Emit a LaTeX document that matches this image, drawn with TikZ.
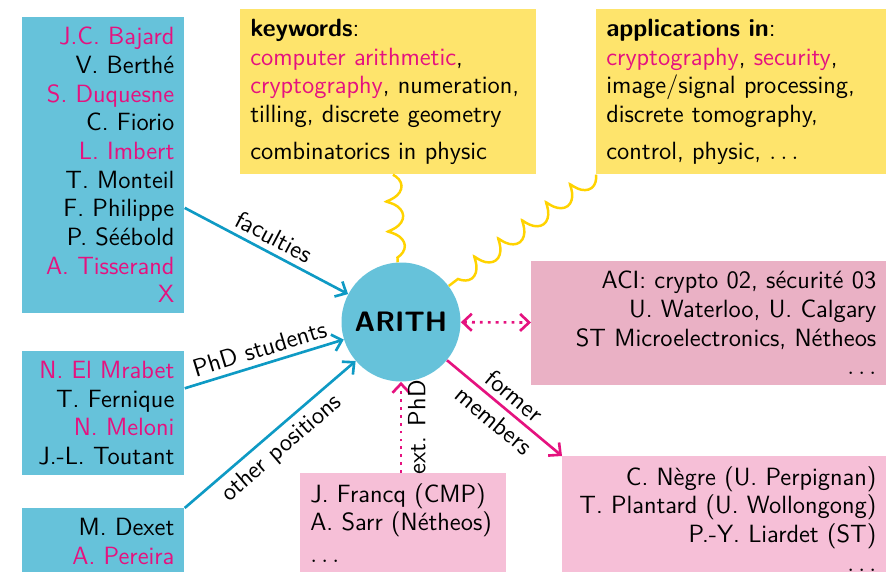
\documentclass[tikz,border=0pt]{standalone}
\usepackage{tikz}
\usetikzlibrary{arrows.meta, positioning, decorations.pathmorphing}
\definecolor{staff}   {HTML}{66C2DA}
\definecolor{linkblue}{HTML}{0E9AC4}
\definecolor{rubine}  {HTML}{E5127F}
\definecolor{topic}   {HTML}{FEE46C}
\definecolor{wave}    {HTML}{FFD300}
\definecolor{partner} {HTML}{EAB1C5}
\definecolor{alumni}  {HTML}{F6BFD7}
\newcommand{\hot}[1]{\textcolor{rubine}{#1}}

\begin{document}
\begin{tikzpicture}[
    font=\sffamily\fontsize{14.2}{16.3}\selectfont,
    box/.style={inner sep=0.2cm, anchor=north west},
    people/.style={box, fill=staff, align=right, text width=2.84cm},
    topics/.style={box, fill=topic, align=left, text width=5.52cm},
    tolink/.style={draw=linkblue, line width=1.5pt, -{Straight Barb[length=1.8mm, width=3.4mm]}},
    hotlink/.style={draw=rubine, line width=1.5pt, -{Straight Barb[length=1.8mm, width=3.4mm]}},
    dotlink/.style={hotlink, dash pattern=on 1.6pt off 2.9pt},
    waves/.style={draw=wave, line width=1.4pt, decorate,
      decoration={coil, amplitude=0.16cm, segment length=0.6cm, aspect=0.5}}
  ]
    \clip (0, 0) rectangle (17.72, 11.42);

    \node[people] (fac) at (0.44, 11.08) {\hot{J.C. Bajard}\\ V. Berthé\\ \hot{S. Duquesne}\\ C. Fiorio\\ \hot{L. Imbert}\\ T. Monteil\\ F. Philippe\\ P. Séébold\\ \hot{A. Tisserand}\\ \hot{X}};
    \node[people] (phd) at (0.44, 4.40) {\hot{N. El Mrabet}\\ T. Fernique\\ \hot{N. Meloni}\\ J.-L. Toutant};
    \node[people] (oth) at (0.44, 1.26) {M. Dexet\\ \hot{A. Pereira}};

    \node[topics] (kw) at (4.80, 11.24) {\textbf{keywords}:\\ \hot{computer arithmetic},\\ \hot{cryptography}, numeration,\\ tilling, discrete geometry\\[0.16cm] combinatorics in physic};
    \node[topics, text width=5.4cm] (apps) at (11.92, 11.24) {\textbf{applications in}:\\ \hot{cryptography}, \hot{security},\\ image/signal processing,\\ discrete tomography,\\[0.16cm] control, physic, $\ldots$};

    \node[circle, fill=staff, minimum size=2.38cm, inner sep=0pt,
      font=\sffamily\bfseries\fontsize{16}{19}\selectfont] (arith) at (8.02, 4.98) {ARITH};

    \node[box, fill=partner, align=right, text width=6.7cm] (aci) at (10.62, 6.20) {ACI: crypto 02, sécurité 03\\ U. Waterloo, U. Calgary\\ ST Microelectronics, Nétheos\\ $\ldots$};
    \node[box, fill=alumni, align=right, text width=6.08cm] (former) at (11.24, 2.30) {C. Nègre (U. Perpignan)\\ T. Plantard (U. Wollongong)\\ P.-Y. Liardet (ST)\\ $\ldots$};
    \node[box, fill=alumni, align=left, text width=3.72cm] (ext) at (6.00, 1.96) {J. Francq (CMP)\\ A. Sarr (Nétheos)\\[0.06cm] $\ldots$};

    \draw[tolink] (fac) -- node[sloped, above] {faculties} (arith);
    \draw[tolink] (phd) -- node[sloped, above] {PhD students} (arith);
    \draw[tolink] (oth.north east) -- node[sloped, below] {other positions} (arith);
    \draw[dotlink] (arith |- ext.north) -- node[rotate=90, anchor=north] {ext. PhD} (arith);
    \draw[dotlink, {Straight Barb[length=1.8mm, width=3.4mm]}-{Straight Barb[length=1.8mm, width=3.4mm]}] (arith) -- (aci);
    \draw[hotlink] (arith) -- node[sloped, above] {former} node[sloped, below] {members} (former.north west);
    \draw[waves] (kw) -- (arith);
    \draw[waves] (apps.south west) -- (arith);
  \end{tikzpicture}
\end{document}
